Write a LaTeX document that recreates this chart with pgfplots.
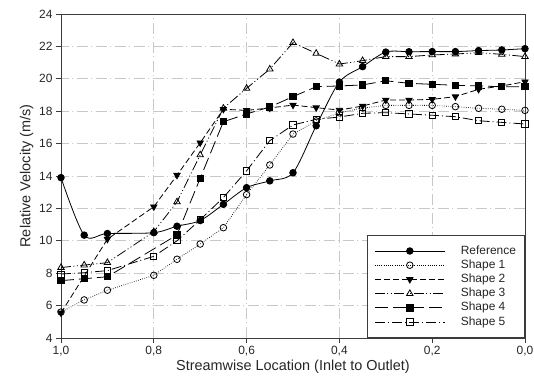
\documentclass[border=0pt]{standalone}
\usepackage{fontspec}
\setmainfont{Liberation Sans}
\usepackage{pgfplots}
\pgfplotsset{compat=1.18}
\definecolor{gridgray}{RGB}{200,200,200}
\definecolor{axgray}{RGB}{60,60,60}
\begin{document}
\begin{tikzpicture}
\begin{axis}[
  name=ax,
  scale only axis,
  width=464bp, height=324bp,
  x dir=reverse,
  xmin=0, xmax=1, ymin=4, ymax=24,
  xtick={0,0.2,0.4,0.6,0.8,1},
  ytick={4,6,...,24},
  xtick pos=bottom, ytick pos=left,
  tick align=outside,
  major tick length=5bp,
  tick style={axgray, line width=0.6bp},
  axis line style={axgray, line width=0.8bp},
  grid=major,
  major grid style={gridgray, line width=0.8bp, dash pattern=on 11bp off 3.5bp on 1bp off 3.5bp},
  clip=false,
  /pgf/number format/assume math mode=true,
  xticklabel style={/pgf/number format/.cd, fixed, fixed zerofill, precision=1, use comma},
  yticklabel style={/pgf/number format/.cd, fixed, precision=0},
  ticklabel style={font=\fontsize{12}{14}\selectfont, text=black!85},
  label style={font=\fontsize{14.5}{17}\selectfont, text=black!85},
  xlabel={Streamwise Location (Inlet to Outlet)},
  ylabel={Relative Velocity (m/s)},
  xlabel style={yshift=3bp},
  ylabel style={yshift=-1bp},
  legend cell align=left,
  legend style={at={(rel axis cs:1,0)}, anchor=south east,
    draw=axgray, line width=0.8bp,
    font=\fontsize{12}{14}\selectfont,
    nodes={text height=8.5bp, text depth=2.5bp, inner sep=1.6bp, text=black!85},
    inner xsep=7bp, inner ysep=8.5bp},
  legend image code/.code={
    \draw[#1, mark=none] (0bp,0bp) -- (70bp,0bp);
    \draw[#1, only marks] plot coordinates {(35bp,0bp)};
    \path (84bp,0bp);
  },
  every axis plot/.append style={line width=0.8bp, black, mark size=3.3bp},
]
\addplot[smooth, mark=*, mark options={solid, fill=black}] coordinates {
(1.0,13.9) (0.95,10.35) (0.9,10.45) (0.8,10.5) (0.75,10.9) (0.7,11.25) (0.65,12.25) (0.6,13.28) (0.55,13.7) (0.5,14.2) (0.45,17.1) (0.4,19.8) (0.35,20.75) (0.3,21.65) (0.25,21.67) (0.2,21.68) (0.15,21.68) (0.1,21.74) (0.05,21.78) (0.0,21.86)};
\addlegendentry{Reference}
\addplot[dash pattern=on 0.6bp off 1.6bp, mark=o, mark options={solid, fill=white}] coordinates {
(1.0,5.6) (0.95,6.35) (0.9,6.95) (0.8,7.87) (0.75,8.86) (0.7,9.8) (0.65,10.81) (0.6,12.85) (0.55,14.68) (0.5,16.59) (0.45,17.4) (0.4,17.9) (0.35,18.2) (0.3,18.36) (0.25,18.36) (0.2,18.36) (0.15,18.28) (0.1,18.18) (0.05,18.12) (0.0,18.05)};
\addlegendentry{Shape 1}
\addplot[dash pattern=on 6bp off 3bp, mark=triangle*, mark size=3.6bp, mark options={solid, fill=black, rotate=180}] coordinates {
(1.0,5.55) (0.9,10.1) (0.8,12.1) (0.75,14.05) (0.7,16.05) (0.65,18.12) (0.6,18.05) (0.55,18.2) (0.5,18.38) (0.45,18.22) (0.4,18.07) (0.35,18.32) (0.3,18.69) (0.25,18.69) (0.2,18.73) (0.15,18.9) (0.1,19.35) (0.05,19.56) (0.0,19.82)};
\addlegendentry{Shape 2}
\addplot[dash pattern=on 10bp off 2.5bp on 1bp off 2.5bp on 1bp off 2.5bp, mark=triangle, mark size=3.7bp, mark options={solid, fill=white}] coordinates {
(1.0,8.35) (0.95,8.5) (0.9,8.65) (0.8,10.56) (0.75,12.4) (0.7,15.3) (0.65,18.18) (0.6,19.41) (0.55,20.6) (0.5,22.23) (0.45,21.57) (0.4,20.91) (0.35,21.12) (0.3,21.37) (0.25,21.37) (0.2,21.47) (0.15,21.53) (0.1,21.61) (0.05,21.51) (0.0,21.37)};
\addlegendentry{Shape 3}
\addplot[dash pattern=on 13bp off 5bp, mark=square*, mark size=3.1bp, mark options={solid, fill=black}] coordinates {
(1.0,7.54) (0.95,7.66) (0.9,7.78) (0.75,10.36) (0.7,13.86) (0.65,17.35) (0.6,17.83) (0.55,18.26) (0.5,18.9) (0.45,19.51) (0.4,19.56) (0.35,19.62) (0.3,19.88) (0.25,19.72) (0.2,19.66) (0.15,19.6) (0.1,19.56) (0.05,19.51) (0.0,19.51)};
\addlegendentry{Shape 4}
\addplot[dash pattern=on 10bp off 3bp on 1bp off 3bp, mark=square, mark size=3.1bp, mark options={solid, fill=white}] coordinates {
(1.0,7.95) (0.95,8.03) (0.9,8.16) (0.8,9.04) (0.75,10.0) (0.7,11.3) (0.65,12.67) (0.6,14.32) (0.55,16.18) (0.5,17.15) (0.45,17.5) (0.4,17.64) (0.35,17.87) (0.3,17.91) (0.25,17.83) (0.2,17.75) (0.15,17.66) (0.1,17.41) (0.05,17.31) (0.0,17.21)};
\addlegendentry{Shape 5}
\end{axis}
\pgfresetboundingbox
\path[use as bounding box] ([shift={(-61bp,-47bp)}]ax.south west) rectangle ([shift={(9bp,14bp)}]ax.north east);
\end{tikzpicture}
\end{document}
